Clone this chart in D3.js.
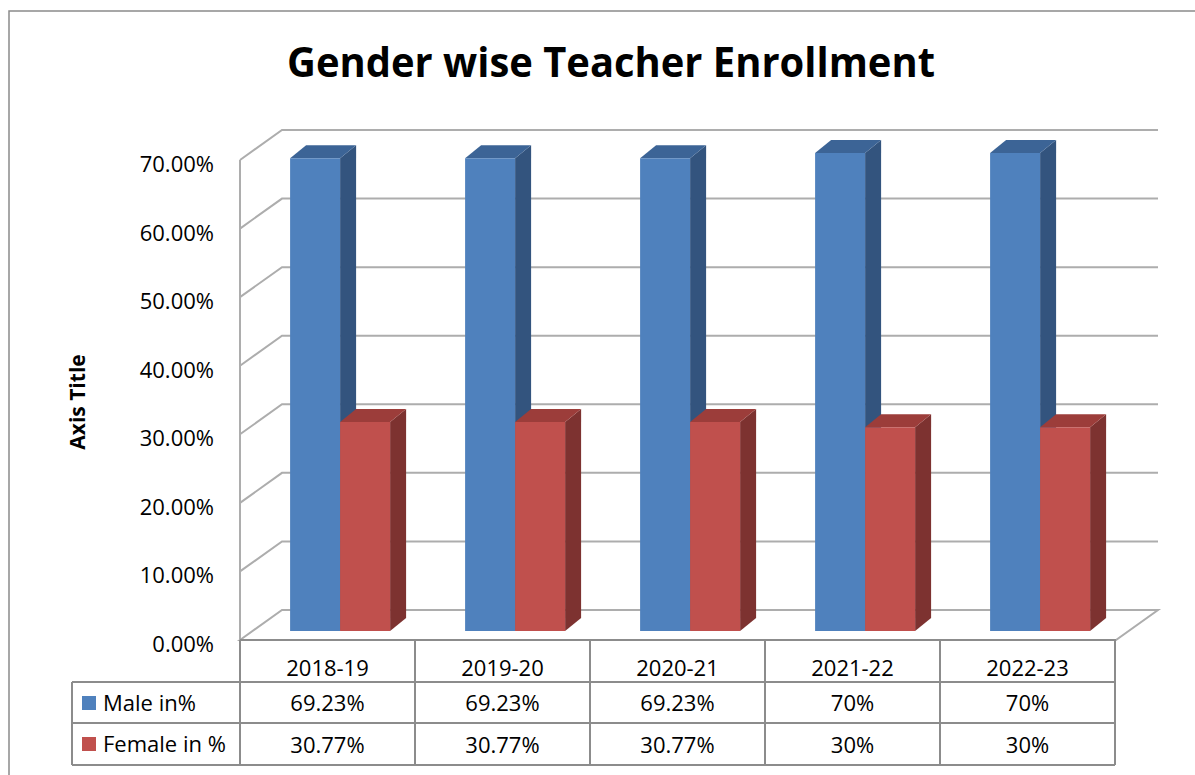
<!DOCTYPE html>
<html>
<head>
<meta charset="utf-8">
<title>Gender wise Teacher Enrollment</title>
<style>
  body { margin: 0; background: #fff; }
  svg text { font-family: "Open Sans", "Noto Sans", sans-serif; fill: #000; }
</style>
</head>
<body>
<svg width="1195" height="775"></svg>
<script src="https://cdn.jsdelivr.net/npm/d3@7"></script>
<script>
// data
const categories = ["2018-19", "2019-20", "2020-21", "2021-22", "2022-23"]
const seriesNames = ["Male in%", "Female in %"]
const maleValues = [0.6923, 0.6923, 0.6923, 0.70, 0.70]
const femaleValues = [0.3077, 0.3077, 0.3077, 0.30, 0.30]
const maleLabels = ["69.23%", "69.23%", "69.23%", "70%", "70%"]
const femaleLabels = ["30.77%", "30.77%", "30.77%", "30%", "30%"]
const yTicks = [0, 0.1, 0.2, 0.3, 0.4, 0.5, 0.6, 0.7]

const svg = d3.select("svg")

// colours: front, top, side
const colors = [
  { front: "#4f81bd", top: "#3c6496", side: "#33547e" },
  { front: "#c0504d", top: "#9c3d3a", side: "#7d3230" }
]

// frame around chart
svg.append("rect")
  .attr("x", 9).attr("y", 11).attr("width", 1210).attr("height", 800)
  .attr("fill", "none").attr("stroke", "#8a8a8a").attr("stroke-width", 1.5)

// title
svg.append("text")
  .attr("x", 611).attr("y", 77)
  .attr("text-anchor", "middle")
  .attr("font-size", 42).attr("font-weight", "bold")
  .attr("textLength", 648).attr("lengthAdjust", "spacingAndGlyphs")
  .text("Gender wise Teacher Enrollment")

// scales (front plane)
const x = d3.scaleBand().domain(categories).range([240, 1115])
const xs = d3.scaleBand().domain(seriesNames).range([0, x.bandwidth()]).paddingOuter(0.75)
const y = d3.scaleLinear().domain([0, 0.7]).range([640, 160])

// depth of the floor, bar offset and depth
const depth = [42, -30]
const barOff = [12.6, -9]
const barDepth = [16, -13]

// walls / gridlines
const grid = svg.append("g").attr("stroke", "#adadad").attr("stroke-width", 2).attr("fill", "none")
yTicks.forEach(t => {
  if (t === 0) return
  grid.append("polyline")
    .attr("points", [[240, y(t)], [240 + depth[0], y(t) + depth[1]], [x.range()[1] + depth[0] + 1, y(t) + depth[1]]].join(" "))
})
grid.append("line")
  .attr("x1", 240).attr("x2", 240).attr("y1", y(0)).attr("y2", y(0.7))
// floor
grid.append("polygon")
  .attr("fill", "#fff")
  .attr("points", [[240, y(0)], [240 + depth[0], y(0) + depth[1]],
    [x.range()[1] + depth[0] + 1, y(0) + depth[1]], [x.range()[1] + 1, y(0)]].join(" "))

// y axis labels
svg.append("g").selectAll("text").data(yTicks).join("text")
  .attr("x", 214).attr("y", d => y(d) + 12)
  .attr("text-anchor", "end").attr("font-size", 22)
  .text(d => d3.format(".2%")(d))

// axis title
svg.append("text")
  .attr("transform", "translate(85,402) rotate(-90)")
  .attr("text-anchor", "middle").attr("font-size", 21).attr("font-weight", "bold")
  .text("Axis Title")

// bars
const bars = svg.append("g")
categories.forEach((c, i) => {
  [maleValues[i], femaleValues[i]].forEach((v, s) => {
    const x0 = x(c) + xs(seriesNames[s]) + barOff[0]
    const x1 = x0 + xs.bandwidth()
    const yb = y(0) + barOff[1]
    const yt = y(v) + barOff[1] + 2
    const [dx, dy] = barDepth
    const g = bars.append("g")
    g.append("polygon").attr("fill", colors[s].side)
      .attr("points", [[x1, yt], [x1 + dx, yt + dy], [x1 + dx, yb + dy], [x1, yb]].join(" "))
    g.append("polygon").attr("fill", colors[s].top)
      .attr("points", [[x0, yt], [x1, yt], [x1 + dx, yt + dy], [x0 + dx, yt + dy]].join(" "))
    g.append("rect").attr("fill", colors[s].front)
      .attr("x", x0).attr("y", yt).attr("width", x1 - x0).attr("height", yb - yt)
  })
})

// data table
const rowY = [640, 682, 723, 765]
const table = svg.append("g").attr("stroke", "#8c8c8c").attr("stroke-width", 2)
const colX = categories.map(c => x(c)).concat([x.range()[1]])
colX.forEach(cx => table.append("line").attr("x1", cx).attr("x2", cx).attr("y1", rowY[0]).attr("y2", rowY[3]))
rowY.slice(1).forEach(ry => table.append("line").attr("x1", 72).attr("x2", x.range()[1]).attr("y1", ry).attr("y2", ry))
table.append("line").attr("x1", 72).attr("x2", 72).attr("y1", rowY[1]).attr("y2", rowY[3])
table.append("line").attr("x1", 240).attr("x2", x.range()[1] + 1).attr("y1", rowY[0]).attr("y2", rowY[0])

const cellText = svg.append("g").attr("font-size", 22).attr("text-anchor", "middle")
categories.forEach((c, i) => {
  const cx = x(c) + x.bandwidth() / 2
  cellText.append("text").attr("x", cx).attr("y", 676).text(c)
  cellText.append("text").attr("x", cx).attr("y", 711).text(maleLabels[i])
  cellText.append("text").attr("x", cx).attr("y", 753).text(femaleLabels[i])
})

// row headers with legend keys
seriesNames.forEach((n, s) => {
  const ry = rowY[s + 1]
  svg.append("rect").attr("x", 82).attr("y", ry + 14).attr("width", 14).attr("height", 14)
    .attr("fill", colors[s].front)
  svg.append("text").attr("x", 103).attr("y", ry + 29).attr("font-size", 22).text(n)
})
</script>
</body>
</html>
